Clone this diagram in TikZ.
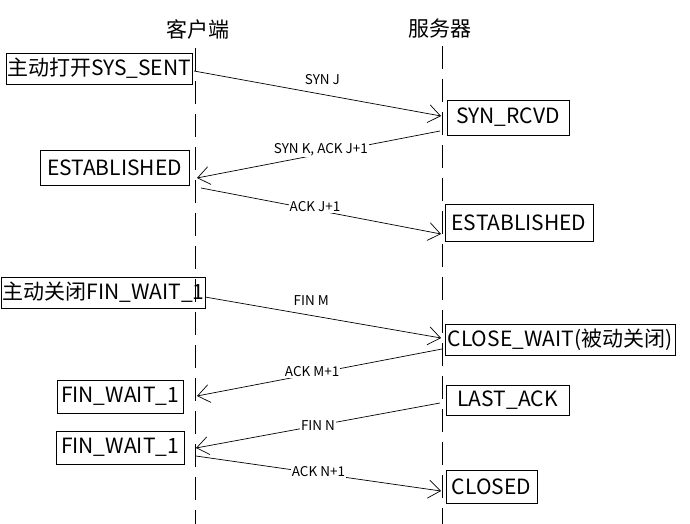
\documentclass[tikz,border=0pt]{standalone}
\usepackage{fontspec}
\setmainfont{Noto Sans CJK SC}
\usetikzlibrary{arrows.meta}

\begin{document}
\begin{tikzpicture}[x=1pt, y=-1pt,
	state/.style={draw, line width=0.8pt, inner sep=1pt, font=\fontsize{21}{23}\selectfont},
	msg/.style={-{Straight Barb[length=12pt,width=18pt]}, line width=0.7pt},
	lbl/.style={font=\fontsize{13.5}{15}\selectfont, inner sep=1pt},
	lblw/.style={lbl, fill=white},
	life/.style={line width=0.8pt, dash pattern=on 23pt off 10pt}]
	\useasboundingbox (0,0) rectangle (690,524);
	
	% 标题
	\node[font=\fontsize{21}{23}\selectfont] (client) at (198,29) {客户端};
	\node[font=\fontsize{21}{23}\selectfont] (server) at (440,29) {服务器};
	
	% 生命线
	\coordinate (ctop) at (195,48);
	\coordinate (cbot) at (195,524);
	\coordinate (stop) at (442,46);
	\coordinate (sbot) at (442,524);
	\draw[life] (ctop) -- (cbot);
	\draw[life] (stop) -- (sbot);
	
	% 状态
	\node[state, minimum width=186pt, minimum height=31pt] (synsent) at (99,68.5) {主动打开SYS\_SENT};
	\node[state, minimum width=122pt, minimum height=35pt] (synrcvd) at (508,117.5) {SYN\_RCVD};
	\node[state, minimum width=149pt, minimum height=35pt] (estc) at (114.5,167.5) {ESTABLISHED};
	\node[state, minimum width=148pt, minimum height=37pt] (ests) at (519,222.5) {ESTABLISHED};
	\node[state, minimum width=203pt, minimum height=31pt] (finwait) at (103.5,292.5) {主动关闭FIN\_WAIT\_1};
	\node[state, minimum width=230pt, minimum height=31pt] (closewait) at (560,339.5) {CLOSE\_WAIT(被动关闭)};
	\node[state, minimum width=126pt, minimum height=33pt] (finwaita) at (120,396.5) {FIN\_WAIT\_1};
	\node[state, minimum width=123pt, minimum height=30pt] (lastack) at (507.5,400) {LAST\_ACK};
	\node[state, minimum width=128pt, minimum height=33pt] (finwaitb) at (120,447.5) {FIN\_WAIT\_1};
	\node[state, minimum width=91pt, minimum height=33pt] (closed) at (491.5,486.5) {CLOSED};
	
	% 报文端点
	\coordinate (m1a) at (194,71);  \coordinate (m1b) at (441,116);
	\coordinate (m2a) at (440,131); \coordinate (m2b) at (197,178);
	\coordinate (m3a) at (201,188); \coordinate (m3b) at (441,234);
	\coordinate (m4a) at (205,297); \coordinate (m4b) at (441,338);
	\coordinate (m5a) at (442,349); \coordinate (m5b) at (197,396);
	\coordinate (m6a) at (440,403); \coordinate (m6b) at (196,448);
	\coordinate (m7a) at (196,456); \coordinate (m7b) at (441,491);
	
	% 报文
	\draw[msg] (m1a) -- node[lbl, pos=.52, above=8pt] {SYN J} (m1b);
	\draw[msg] (m2a) -- node[lblw, pos=.49, yshift=4pt] {SYN K, ACK J+1} (m2b);
	\draw[msg] (m3a) -- node[lblw, pos=.475, yshift=3pt] {ACK J+1} (m3b);
	\draw[msg] (m4a) -- node[lbl, pos=.45, above=9pt] {FIN M} (m4b);
	\draw[msg] (m5a) -- node[lblw, pos=.53, yshift=2pt] {ACK M+1} (m5b);
	\draw[msg] (m6a) -- node[lblw, pos=.5] {FIN N} (m6b);
	\draw[msg] (m7a) -- node[lblw, pos=.5, yshift=2pt] {ACK N+1} (m7b);
\end{tikzpicture}
\end{document}
